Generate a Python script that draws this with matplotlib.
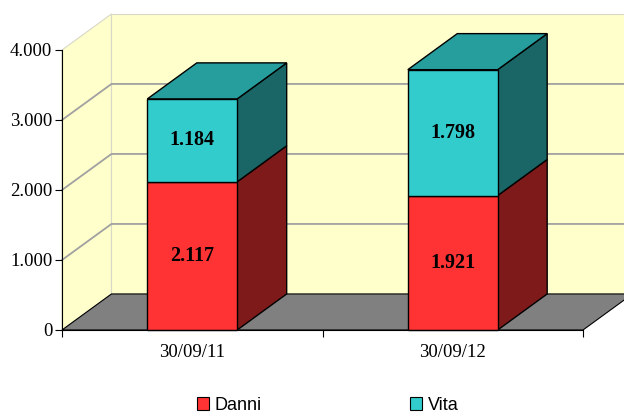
import matplotlib
matplotlib.use("Agg")
import matplotlib.pyplot as plt
from matplotlib.patches import Polygon, Patch
from matplotlib.ticker import FuncFormatter

plt.rcParams["font.family"] = ["Liberation Serif", "DejaVu Serif"]

# 数据
categories = ["30/09/11", "30/09/12"]
danni = [2117, 1921]
vita = [1184, 1798]
series_names = ["Danni", "Vita"]

# 颜色 (正面, 侧面, 顶面)
DANNI_COLORS = ("#FF3333", "#7F1A1A", "#B32424")
VITA_COLORS = ("#33CCCC", "#1A6666", "#269E9E")
WALL = "#FFFFCC"
FLOOR = "#808080"
GRID = "#A0A0A0"

# 斜投影偏移 (数据单位)
DX = 0.19
DY = 515
BAR_W = 0.345
YMAX = 4000


def fmt_thousands(v, pos):
    return f"{int(v):,}".replace(",", ".")


def poly(ax, pts, fc, ec="black", lw=1.0, z=2):
    ax.add_patch(Polygon(pts, closed=True, facecolor=fc, edgecolor=ec,
                         linewidth=lw, zorder=z, clip_on=False))


def draw_box3d(ax, x0, x1, b, t, colors, top=False, z=3):
    front, side, top_c = colors
    poly(ax, [(x1, b), (x1 + DX, b + DY), (x1 + DX, t + DY), (x1, t)], side, z=z)
    if top:
        poly(ax, [(x0, t), (x0 + DX, t + DY), (x1 + DX, t + DY), (x1, t)], top_c, z=z)
    poly(ax, [(x0, b), (x1, b), (x1, t), (x0, t)], front, z=z + 0.1)


def main():
    fig = plt.figure(figsize=(6.24, 4.16), dpi=100)
    ax = fig.add_axes([62 / 624, 1 - 330 / 416, 521 / 624, 280 / 416])
    ax.set_xlim(0, 2)
    ax.set_ylim(0, YMAX)
    ax.patch.set_visible(False)

    n = len(categories)

    # 墙面和地面
    poly(ax, [(0, 0), (DX, DY), (DX, YMAX + DY), (0, YMAX)], WALL, ec="#D8D8C8", lw=0.8, z=0.5)
    poly(ax, [(DX, DY), (n + DX, DY), (n + DX, YMAX + DY), (DX, YMAX + DY)], WALL,
         ec="#D8D8C8", lw=0.8, z=0.5)
    poly(ax, [(0, 0), (n, 0), (n + DX, DY), (DX, DY)], FLOOR, ec="black", lw=0.8, z=0.6)

    # 网格线
    for v in range(1000, YMAX, 1000):
        ax.plot([0, DX, n + DX], [v, v + DY, v + DY], color=GRID, lw=1.3, zorder=0.8,
                clip_on=False)

    # 柱子
    for i in range(n):
        xc = i + 0.5
        x0, x1 = xc - BAR_W / 2, xc + BAR_W / 2
        draw_box3d(ax, x0, x1, 0, danni[i], DANNI_COLORS, z=3)
        draw_box3d(ax, x0, x1, danni[i], danni[i] + vita[i], VITA_COLORS, top=True, z=3.5)
        ax.text(xc, danni[i] / 2, fmt_thousands(danni[i], None), ha="center", va="center",
                fontsize=14.5, fontweight="bold", zorder=5)
        ax.text(xc, danni[i] + vita[i] / 2, fmt_thousands(vita[i], None), ha="center",
                va="center", fontsize=14.5, fontweight="bold", zorder=5)

    # 坐标轴
    for s in ["top", "right"]:
        ax.spines[s].set_visible(False)
    ax.spines["left"].set_zorder(6)
    ax.spines["bottom"].set_zorder(6)
    ax.set_yticks(range(0, YMAX + 1, 1000))
    ax.yaxis.set_major_formatter(FuncFormatter(fmt_thousands))
    ax.set_xticks(range(0, n + 1))
    ax.set_xticklabels([])
    ax.set_xticks([i + 0.5 for i in range(n)], minor=True)
    ax.set_xticklabels(categories, minor=True)
    ax.tick_params(axis="x", which="minor", length=0, pad=10, labelsize=13.5)
    ax.tick_params(axis="both", which="major", length=5, direction="out", labelsize=13.5,
                   pad=2)

    # 图例
    handles = [Patch(facecolor=DANNI_COLORS[0], edgecolor="black", lw=0.8),
               Patch(facecolor=VITA_COLORS[0], edgecolor="black", lw=0.8)]
    fig.legend(handles, series_names, loc="center", bbox_to_anchor=(0.525, 0.026), ncol=2,
               frameon=False, handlelength=0.7, handleheight=0.7, handletextpad=0.3,
               columnspacing=8.2,
               prop={"family": ["Liberation Sans Narrow", "Liberation Sans"], "size": 13})

    fig.savefig("out.png", dpi=100)


if __name__ == "__main__":
    main()
